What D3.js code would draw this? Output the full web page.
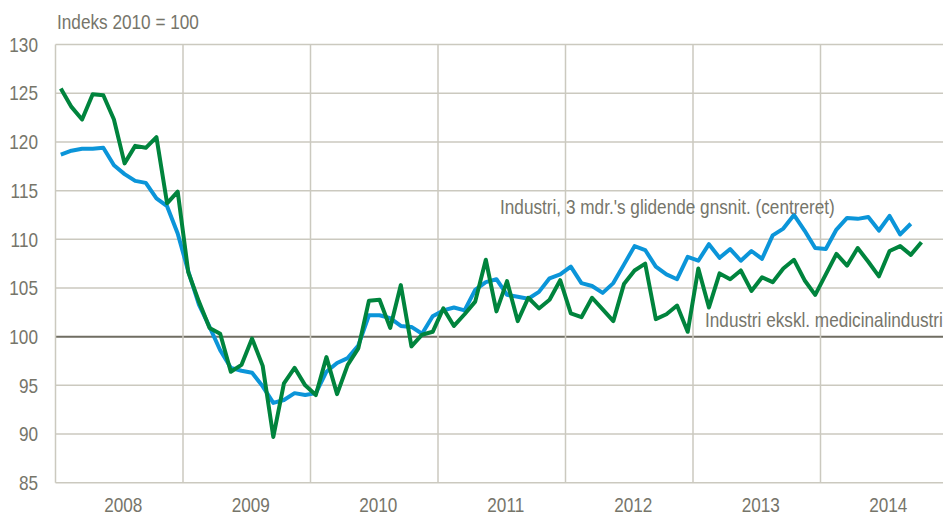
<html>
<head>
<meta charset="utf-8">
<script src="https://cdn.jsdelivr.net/npm/d3@7"></script>
<style>
  body { margin: 0; background: #fff; }
  svg { display: block; }
  text { font-family: "Liberation Sans Narrow", "Arial Narrow", "Liberation Sans", Arial, sans-serif; fill: #76756a; font-size: 20px; }
</style>
</head>
<body>
<svg id="chart" width="943" height="515"></svg>
<script>
// data, monthly from Jan 2008
var years = ["2008", "2009", "2010", "2011", "2012", "2013", "2014"];
var yTicks = [85, 90, 95, 100, 105, 110, 115, 120, 125, 130];

// Industri ekskl. medicinalindustri (Jan 2008 - Oct 2014)
var exMedical = [125.5, 123.6, 122.3, 124.9, 124.8, 122.3, 117.8, 119.6, 119.4, 120.5, 113.7, 114.9,
  106.6, 103.6, 100.9, 100.3, 96.4, 97.1, 99.8, 97.0, 89.7, 95.2, 96.8, 95.0,
  94.0, 97.9, 94.1, 97.1, 98.8, 103.7, 103.8, 100.9, 105.3, 99.0, 100.2, 100.5,
  102.9, 101.1, 102.3, 103.6, 107.9, 102.6, 105.7, 101.6, 104.0, 102.9, 103.8, 105.8,
  102.4, 102.0, 104.0, 102.8, 101.6, 105.4, 106.8, 107.5, 101.8, 102.3, 103.2, 100.5,
  107.0, 103.0, 106.5, 105.9, 106.8, 104.7, 106.1, 105.6, 107.0, 107.9, 105.8, 104.3,
  106.4, 108.5, 107.3, 109.1, 107.7, 106.2, 108.8, 109.3, 108.4, 109.7];

// Industri, 3 mdr.'s glidende gnsnit. (Jan 2008 - Sep 2014)
var movingAvg = [118.7, 119.1, 119.3, 119.3, 119.4, 117.6, 116.7, 116.0, 115.8, 114.2, 113.4, 110.6,
  106.7, 103.3, 101.0, 98.6, 96.8, 96.5, 96.3, 94.9, 93.2, 93.5, 94.2, 94.0,
  94.2, 96.4, 97.3, 97.8, 99.1, 102.2, 102.2, 101.9, 101.1, 101.0, 100.3, 102.1,
  102.7, 103.0, 102.7, 104.8, 105.6, 105.9, 104.3, 104.1, 103.9, 104.6, 106.0, 106.4,
  107.2, 105.5, 105.2, 104.5, 105.5, 107.4, 109.3, 108.9, 107.2, 106.4, 105.9, 108.2,
  107.8, 109.5, 108.1, 109.0, 107.8, 108.8, 108.0, 110.4, 111.1, 112.5, 110.9, 109.1,
  109.0, 111.0, 112.2, 112.1, 112.3, 110.9, 112.4, 110.5, 111.6];

var svg = d3.select("#chart");
var plotLeft = 55.5, plotRight = 948, plotTop = 44.6, plotBottom = 482.7;
var squeeze = 0.86; // no narrow font installed, so squeeze text sideways

// month scale: 0 = start of Jan 2008, 84 = start of 2015
var x = d3.scaleLinear().domain([0, 84]).range([plotLeft, plotRight]);
var y = d3.scaleLinear().domain([85, 130]).range([plotBottom, plotTop]);

function place(px, py) {
  return "translate(" + px + "," + py + ") scale(" + squeeze + ",1)";
}

// horizontal grid
svg.append("g").selectAll("line")
  .data(yTicks)
  .enter().append("line")
    .attr("x1", plotLeft).attr("x2", 943)
    .attr("y1", function(d) { return y(d); })
    .attr("y2", function(d) { return y(d); })
    .attr("stroke", function(d) { return d == 100 ? "#6f6d62" : "#cbc9bf"; })
    .attr("stroke-width", function(d) { return d == 100 ? 2 : 1.5; });

// vertical grid at year boundaries
svg.append("g").selectAll("line")
  .data(d3.range(0, 7))
  .enter().append("line")
    .attr("x1", function(d) { return x(d * 12); })
    .attr("x2", function(d) { return x(d * 12); })
    .attr("y1", y(130)).attr("y2", y(85))
    .attr("stroke", "#cbc9bf")
    .attr("stroke-width", 1.5);

// y tick labels
svg.append("g").selectAll("text")
  .data(yTicks)
  .enter().append("text")
    .attr("transform", function(d) { return place(38, y(d)); })
    .attr("dy", "0.36em")
    .attr("text-anchor", "end")
    .text(function(d) { return d; });

// year labels
svg.append("g").selectAll("text")
  .data(years)
  .enter().append("text")
    .attr("transform", function(d, i) { return place(x(i * 12 + 6) + 4, 512); })
    .attr("text-anchor", "middle")
    .text(function(d) { return d; });

svg.append("text")
  .attr("transform", place(57, 29))
  .text("Indeks 2010 = 100");

var line = d3.line()
  .x(function(d, i) { return x(i + 0.5); })
  .y(function(d) { return y(d); });

svg.append("path")
  .attr("d", line(movingAvg))
  .attr("fill", "none")
  .attr("stroke", "#0b95d9")
  .attr("stroke-width", 4)
  .attr("stroke-linejoin", "round");

svg.append("path")
  .attr("d", line(exMedical))
  .attr("fill", "none")
  .attr("stroke", "#00843d")
  .attr("stroke-width", 4)
  .attr("stroke-linejoin", "round");

svg.append("text")
  .attr("transform", place(500, 214))
  .text("Industri, 3 mdr.'s glidende gnsnit. (centreret)");

svg.append("text")
  .attr("transform", place(705, 327))
  .text("Industri ekskl. medicinalindustri");
</script>
</body>
</html>
